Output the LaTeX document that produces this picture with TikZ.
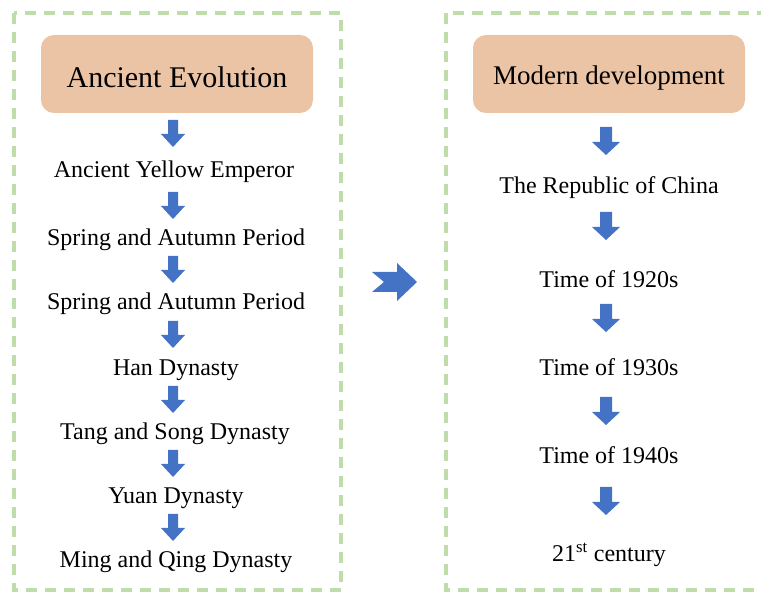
\documentclass[tikz,border=0pt]{standalone}
\usepackage{fontspec}
\setmainfont{Liberation Serif}
\definecolor{dashgreen}{HTML}{BFDDAB}
\definecolor{peach}{HTML}{EBC3A5}
\definecolor{arrowblue}{HTML}{4472C4}
\tikzset{
  panel/.style={draw=dashgreen, line width=3.2pt, dash pattern=on 11pt off 8pt},
  titlebox/.style={fill=peach, rounded corners=13pt, minimum width=272pt, minimum height=78pt, inner sep=0pt},
  item/.style={font=\fontsize{24}{28}\selectfont, inner sep=1pt},
  blk/.style={fill=arrowblue}
}
\newcommand\leftarr[2]{\fill[blk, shift={(#1,#2)}] (-5,-13) -- (5,-13) -- (5,1) -- (12,1) -- (0,14) -- (-12,1) -- (-5,1) -- cycle;}
\newcommand\rightcolarr[2]{\fill[blk, shift={(#1,#2)}] (-6,-14) -- (6,-14) -- (6,1) -- (14,1) -- (0,14) -- (-14,1) -- (-6,1) -- cycle;}
\begin{document}
\begin{tikzpicture}[x=1pt,y=-1pt]
\useasboundingbox (0,0) rectangle (761,593);
\begin{scope}
\clip (0,0) rectangle (761,593);
\draw[panel] (14,13) rectangle (341,590);
\draw[panel] (446,13) rectangle (790,590);
\end{scope}
% left column
\node[titlebox] (lt) at (177,74) {};
\node[font=\fontsize{30}{34}\selectfont] (ltt) at (177,77) {Ancient Evolution};
\node[item] (l1) at (174,172) {Ancient Yellow Emperor};
\node[item] (l2) at (176,240) {Spring and Autumn Period};
\node[item] (l3) at (176,304) {Spring and Autumn Period};
\node[item] (l4) at (176,370) {Han Dynasty};
\node[item] (l5) at (175,434) {Tang and Song Dynasty};
\node[item] (l6) at (176,498) {Yuan Dynasty};
\node[item] (l7) at (176,562) {Ming and Qing Dynasty};
\leftarr{173}{133}
\leftarr{173}{205}
\leftarr{173}{269}
\leftarr{173}{334}
\leftarr{173}{399}
\leftarr{173}{463}
\leftarr{173}{527}
% right column
\node[titlebox] (rt) at (609,74) {};
\node[font=\fontsize{27}{31}\selectfont] (rtt) at (609,78) {Modern development};
\node[item] (r1) at (609,188) {The Republic of China};
\node[item] (r2) at (609,279) {Time of 1920s};
\node[item] (r3) at (609,367) {Time of 1930s};
\node[item] (r4) at (609,455) {Time of 1940s};
\node[item] (r5) at (609,555) {21\textsuperscript{st} century};
\rightcolarr{606}{141}
\rightcolarr{606}{226}
\rightcolarr{606}{318}
\rightcolarr{606}{411}
\rightcolarr{606}{501}
% middle arrow
\fill[blk] (372,272) -- (397,272) -- (397,263) -- (417,282) -- (397,301) -- (397,292) -- (372,292) -- (384,282) -- cycle;
\end{tikzpicture}
\end{document}
